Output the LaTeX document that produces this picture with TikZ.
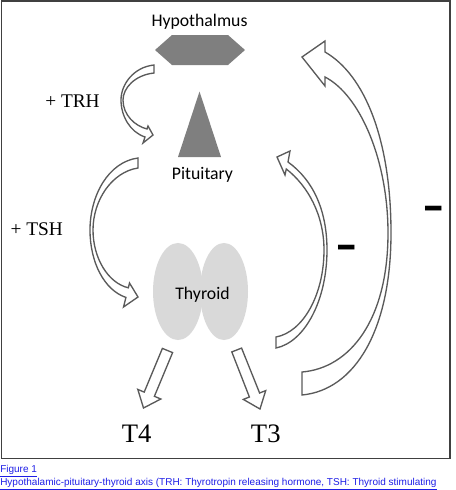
\documentclass[tikz,border=0pt]{standalone}
\usepackage{fontspec}
\setmainfont{Liberation Serif}
\newfontfamily\calibri{Carlito}
\newfontfamily\arial{Liberation Sans}
\usetikzlibrary{positioning}

\definecolor{organgray}{RGB}{127,127,127}
\definecolor{lobegray}{RGB}{217,217,217}
\definecolor{arrowgray}{RGB}{90,90,90}
\definecolor{framegray}{RGB}{64,64,64}
\definecolor{linkblue}{RGB}{30,30,230}

\begin{document}
\begin{tikzpicture}[x=0.75pt, y=-0.75pt,
        organ/.style={fill=organgray},
        lobe/.style={fill=lobegray},
        organlabel/.style={font=\calibri\fontsize{13.3}{15}\selectfont, inner sep=0pt, anchor=base},
        hormone/.style={font=\fontsize{14.5}{16}\selectfont, inner sep=0pt, anchor=base},
        output/.style={font=\fontsize{20}{22}\selectfont, inner sep=0pt, anchor=base},
        minus/.style={font=\calibri\bfseries\fontsize{40}{40}\selectfont, inner sep=0pt, xscale=1.25, yscale=0.85},
        blockarrow/.style={draw=arrowgray, fill=white, line width=1pt, line join=miter},
        caption/.style={font=\arial\fontsize{7.5}{9}\selectfont, text=linkblue, inner sep=0pt, anchor=base west}]

    \useasboundingbox (0,0) rectangle (456,490);
    \draw[framegray, line width=1pt] (1.5,1) rectangle (450,458.5);

    % organs
    \fill[organ] (155,50) -- (172,35) -- (228,35) -- (245,50) -- (228,65) -- (172,65) -- cycle;
    \fill[organ] (199.5,91.5) -- (221,157) -- (178,157) -- cycle;
    \fill[lobe] (178,291.5) ellipse [x radius=18.75pt, y radius=36.4pt];
    \fill[lobe] (224,291.5) ellipse [x radius=18pt, y radius=36.4pt];

    \node[organlabel] (hypothalmus) at (199.5,26) {Hypothalmus};
    \node[organlabel] (pituitary) at (202.5,179.5) {Pituitary};
    \node[organlabel] (thyroid) at (202.5,299.5) {Thyroid};

    % stimulating arrows
    \draw[blockarrow] (154,65) -- (154,73) .. controls (135,75) and (123,88) .. (123,100)
        .. controls (123,115) and (135,126) .. (147,129) -- (148,126) -- (153,135) -- (143,143) -- (145,137)
        .. controls (130,132) and (121,116) .. (121,100) .. controls (121,84) and (134,67) .. (154,65) -- cycle;
    \draw[blockarrow] (138,158) -- (138,168) .. controls (112,172) and (93,200) .. (93,230)
        .. controls (93,258) and (108,283) .. (128.3,287.8) -- (129.5,283) -- (138,297) -- (123.5,307) -- (125.9,297.4)
        .. controls (104,290) and (90,262) .. (90,230) .. controls (90,196) and (108,162) .. (138,158) -- cycle;

    % feedback arrows
    \draw[blockarrow] (276,337) -- (276,348) .. controls (305,342) and (327,300) .. (327,250)
        .. controls (327,210) and (313,180) .. (288,162) -- (290,151) -- (277,157) -- (285,175) -- (286.3,169)
        .. controls (308,186) and (324,215) .. (324,250) .. controls (324,295) and (303,332) .. (276,337) -- cycle;
    \draw[blockarrow] (302,372) -- (302,395) .. controls (355,390) and (391,330) .. (391,233)
        .. controls (391,140) and (365,75) .. (325,52) -- (325,41) -- (302,57) -- (325,86) -- (325,77)
        .. controls (360,95) and (388,160) .. (388,233) .. controls (388,320) and (350,368) .. (302,372) -- cycle;

    % hormone outputs
    \draw[blockarrow] (162.4,348.4) -- (144.2,392.1) -- (137.8,389.4) -- (143.5,408) -- (160.8,399) -- (154.4,396.3) -- (172.6,352.6) -- cycle;
    \draw[blockarrow] (231.8,351.9) -- (241.6,348.1) -- (259.6,393) -- (265.7,390.6) -- (260,409) -- (243.3,399.4) -- (249.4,397) -- cycle;

    \node[hormone] (trh) at (72.5,107.3) {+ TRH};
    \node[hormone] (tsh) at (36.7,235) {+ TSH};
    \node[output] (tfour) at (136.7,442) {T4};
    \node[output] (tthree) at (265.8,442) {T3};
    \node[minus] (outerminus) at (434,214) {-};
    \node[minus] (innerminus) at (347,253) {-};

    \node[caption] (figno) at (0,472) {\underline{Figure 1}};
    \node[caption] (figtext) at (0,485.3) {\underline{Hypothalamic-pituitary-thyroid axis (TRH: Thyrotropin releasing hormone, TSH: Thyroid stimulating}};
\end{tikzpicture}
\end{document}
